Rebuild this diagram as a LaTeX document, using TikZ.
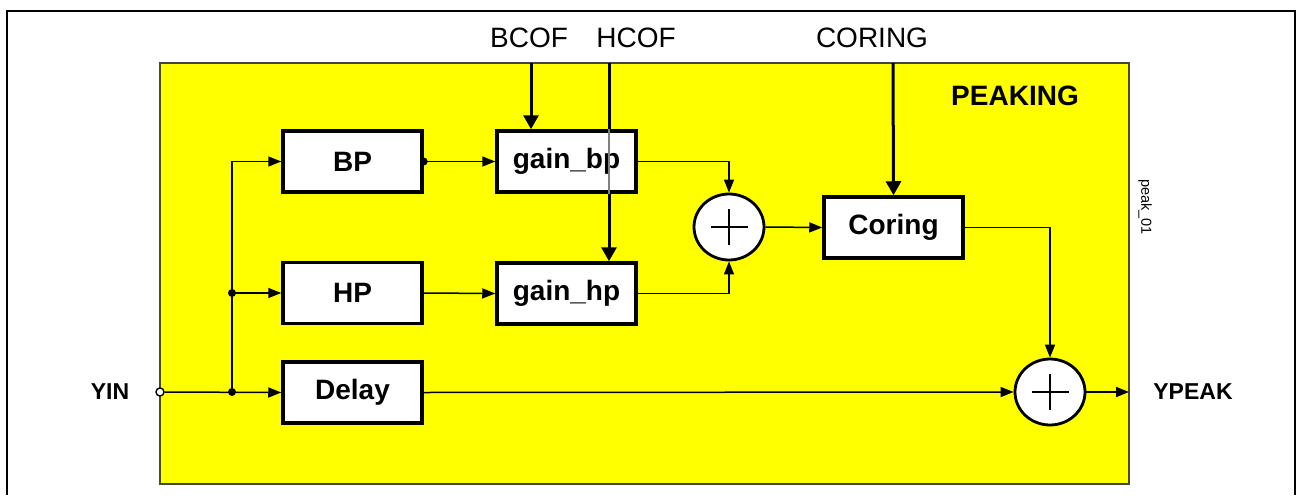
\documentclass[tikz,border=0pt]{standalone}
\usepackage{fontspec}
\setmainfont{Liberation Sans}
\usetikzlibrary{arrows.meta,shapes.geometric}
\definecolor{peakyellow}{RGB}{255,255,0}
\definecolor{edgegray}{RGB}{70,70,70}
\begin{document}
\begin{tikzpicture}[x=1pt,y=-1pt,
  blk/.style={draw, line width=3.5pt, fill=white, minimum width=139pt, minimum height=61pt, inner sep=0pt,
    font=\fontsize{28}{30}\selectfont\bfseries},
  adder/.style={ellipse, draw, line width=2.8pt, fill=white, minimum width=70pt, minimum height=66pt, inner sep=0pt},
  sig/.style={line width=1.5pt, -{Triangle[length=13pt,width=10pt]}},
  ctl/.style={line width=3pt, -{Triangle[length=14pt,width=15pt]}},
  ctlwire/.style={line width=3pt},
  dot/.style={circle, fill=black, minimum size=8pt, inner sep=0pt},
  lbl/.style={font=\fontsize{28}{30}\selectfont},
  iolbl/.style={font=\fontsize{23}{25}\selectfont\bfseries},
  plus/.style={line width=2.2pt}
]
\useasboundingbox (0,0) rectangle (1297,495);
% outer frame
\draw[line width=2pt] (7,495) -- (7,11) -- (1295,11) -- (1295,495);
% yellow block
\draw[fill=peakyellow, draw=edgegray, line width=1.3pt] (160,63) rectangle (1129,484);
\node[font=\fontsize{28}{30}\selectfont\bfseries] (title) at (1015,96) {PEAKING};
\node[rotate=-90, font=\fontsize{14.5}{16}\selectfont] (tag) at (1145,207) {peak\_01};

% blocks
\node[blk] (bp) at (352.5,161.5) {BP};
\node[blk] (hp) at (352.5,293) {HP};
\node[blk] (delay) at (352.5,392.5) {Delay};
\node[blk] (gbp) at (566.5,161.5) {gain\_bp};
\node[blk] (ghp) at (566.5,293.5) {gain\_hp};
\node[blk] (coring) at (893.5,227.5) {Coring};
\node[adder] (add1) at (729,227) {};
\node[adder] (add2) at (1050,392) {};
\foreach \a in {add1,add2}{
  \draw[plus] ([xshift=-18.5pt]\a.center) -- ([xshift=18.5pt]\a.center);
  \draw[plus] ([yshift=-18pt]\a.center) -- ([yshift=18pt]\a.center);
}

% labels
\node[iolbl] (yinl) at (110,392) {YIN};
\node[iolbl] (ypeak) at (1193,392) {YPEAK};
\node[lbl] (bcof) at (529,38) {BCOF};
\node[lbl] (hcof) at (636,38) {HCOF};
\node[lbl] (coringl) at (872,38) {CORING};

% control inputs
\coordinate (bcofin) at (531,63);
\coordinate (hcofin) at (609,63);
\coordinate (corin) at (893,63);
\draw[ctl] (bcofin) -- (bcofin |- gbp.north);
\draw[ctlwire] (hcofin) -- (hcofin |- gbp.north);
\draw[line width=1.5pt, gray] (hcofin |- gbp.north) -- (hcofin |- gbp.south);
\draw[ctl] (hcofin |- gbp.south) -- (hcofin |- ghp.north);
\draw[ctl] (corin) -- (coring.north);

% input fan-out
\node[circle, draw, line width=1.4pt, fill=white, minimum size=8pt, inner sep=0pt] (yin) at (160,392) {};
\node[dot] (j1) at (232,392) {};
\node[dot] (j2) at (232,293) {};
\draw[sig] (yin) -- (delay.west);
\draw[sig] (j1.center) |- (bp.west);
\draw[sig] (j2.center) -- (hp.west);

% signal paths
\node[dot] (bpo) at (bp.east) {};
\draw[sig] (bpo.center) -- (gbp.west);
\draw[sig] (hp.east) -- (ghp.west);
\draw[sig] (gbp.east) -| (add1.north);
\draw[sig] (ghp.east) -| (add1.south);
\draw[sig] (add1.east) -- (coring.west);
\draw[sig] (coring.east) -| (add2.north);
\draw[sig] (delay.east) -- (add2.west);
\coordinate (out) at (1129,392);
\draw[sig] (add2.east) -- (out);
\end{tikzpicture}
\end{document}
